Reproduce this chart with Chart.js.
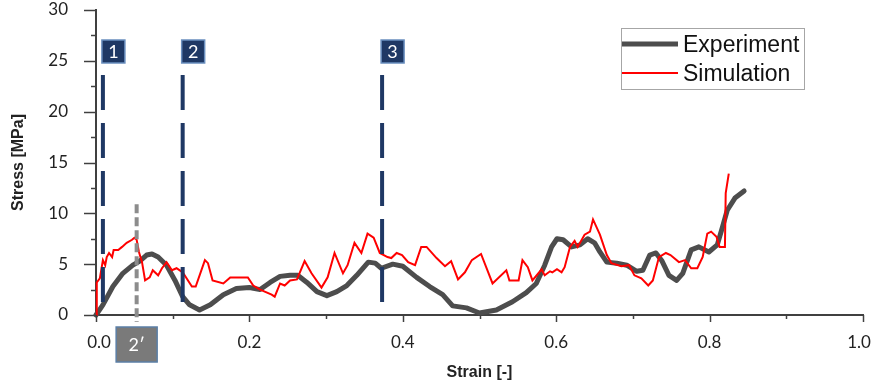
<!DOCTYPE html>
<html>
<head>
<meta charset="utf-8">
<script src="https://cdn.jsdelivr.net/npm/chart.js@4.4.1/dist/chart.umd.min.js"></script>
<style>
html,body{margin:0;padding:0;background:#fff;}
#wrap{width:873px;height:383px;}
</style>
</head>
<body>
<div id="wrap"><canvas id="c" width="873" height="383"></canvas></div>
<script>
// ---- data ----
const expStrain = [0.000,0.009,0.022,0.035,0.048,0.057,0.066,0.073,0.081,0.092,0.103,0.113,0.122,0.135,0.149,0.166,0.183,0.200,0.214,0.227,0.240,0.253,0.263,0.275,0.288,0.301,0.314,0.327,0.340,0.355,0.364,0.372,0.387,0.400,0.418,0.435,0.452,0.465,0.483,0.500,0.522,0.543,0.561,0.574,0.585,0.594,0.601,0.609,0.620,0.631,0.641,0.650,0.657,0.666,0.679,0.692,0.705,0.713,0.722,0.730,0.738,0.747,0.757,0.765,0.776,0.786,0.799,0.810,0.817,0.823,0.833,0.845];
const expStress = [0.0,1.0,2.8,4.1,4.9,5.3,5.9,6.0,5.7,4.9,3.4,1.8,1.0,0.5,1.0,2.0,2.6,2.7,2.5,3.2,3.8,3.9,3.9,3.2,2.3,1.9,2.3,2.9,3.9,5.2,5.1,4.6,5.0,4.8,3.7,2.8,2.0,0.9,0.7,0.2,0.5,1.3,2.2,3.1,4.9,6.7,7.5,7.4,6.7,6.9,7.5,7.1,6.2,5.2,5.1,4.9,4.3,4.4,5.9,6.1,5.3,3.9,3.4,4.1,6.4,6.7,6.2,6.9,8.7,10.3,11.5,12.2];

const simStrain = [0.000,0.001,0.005,0.009,0.012,0.014,0.017,0.021,0.023,0.029,0.034,0.040,0.047,0.050,0.053,0.056,0.060,0.064,0.070,0.074,0.081,0.086,0.092,0.099,0.105,0.113,0.125,0.130,0.142,0.146,0.152,0.166,0.175,0.198,0.205,0.214,0.229,0.233,0.240,0.246,0.253,0.262,0.272,0.281,0.294,0.302,0.311,0.322,0.328,0.337,0.346,0.354,0.362,0.370,0.380,0.385,0.392,0.399,0.407,0.416,0.424,0.431,0.444,0.455,0.463,0.472,0.481,0.490,0.502,0.517,0.535,0.539,0.551,0.556,0.563,0.569,0.581,0.585,0.592,0.595,0.601,0.607,0.611,0.618,0.624,0.628,0.637,0.644,0.648,0.657,0.666,0.672,0.685,0.695,0.702,0.711,0.720,0.726,0.734,0.743,0.749,0.760,0.768,0.776,0.784,0.791,0.797,0.802,0.809,0.813,0.820,0.821,0.825];
const simStress = [0.0,3.2,3.6,5.4,4.9,5.7,6.1,5.7,6.4,6.4,6.7,7.1,7.4,7.6,7.4,6.2,5.2,3.4,3.7,4.4,3.9,4.6,5.2,4.4,4.6,4.2,2.8,2.8,5.4,5.1,3.4,3.1,3.7,3.7,2.9,2.5,2.0,1.8,3.1,2.9,3.4,3.5,5.3,4.1,2.7,3.7,6.1,4.1,4.9,7.1,6.1,8.0,7.6,6.1,5.7,5.6,6.1,5.9,5.2,4.9,6.7,6.7,5.6,4.8,5.3,3.5,4.2,5.4,6.0,3.1,4.4,3.4,3.4,5.4,4.7,3.4,4.5,3.9,4.3,4.2,4.5,4.2,4.7,6.7,7.3,6.7,7.9,8.2,9.4,7.9,5.9,5.1,4.8,4.9,3.9,3.6,2.9,3.4,5.7,6.1,5.9,5.2,5.4,4.6,4.6,5.7,8.0,8.2,7.7,6.7,6.7,12.0,13.9];

const seriesNames = ['Experiment', 'Simulation'];
const xTickValues = [0, 0.2, 0.4, 0.6, 0.8, 1.0];
const xTickLabels = ['0.0','0.2','0.4','0.6','0.8','1.0'];
const yTickLabels = ['0','5','10','15','20','25','30'];

// marker lines (stage lines)
const markerStrain = [0.009, 0.113, 0.373];
const markerLabels = ['1', '2', '3'];
const markerTopStress = 23.6;
const markerBottomStress = 1.2;
const primeStrain = 0.053;
const primeLabel = '2\u2032';
const primeTopStress = 10.9;

const toPts = (xs, ys) => xs.map((x, i) => ({x: x, y: ys[i]}));

const decor = {
  id: 'decor',
  afterDatasetsDraw(chart) {
    const ctx = chart.ctx;
    const xs = chart.scales.x, ys = chart.scales.y;
    const ca = chart.chartArea;
    ctx.save();
    // axis ticks
    ctx.strokeStyle = '#404040';
    ctx.lineWidth = 1.5;
    ys.ticks.forEach(t => {
      const py = Math.round(ys.getPixelForValue(t.value)) + 0.5;
      const major = Math.abs(t.value % 5) < 1e-6;
      const len = major ? 12 : 5;
      ctx.beginPath(); ctx.moveTo(ca.left - len, py); ctx.lineTo(ca.left, py); ctx.stroke();
    });
    xs.ticks.forEach(t => {
      const px = Math.round(xs.getPixelForValue(t.value)) + 0.5;
      const major = Math.round(t.value * 10) % 2 === 0;
      const len = major ? 7 : 4;
      ctx.beginPath(); ctx.moveTo(px, ca.bottom); ctx.lineTo(px, ca.bottom + len); ctx.stroke();
    });
    // x tick labels (edge labels nudged inward like the original)
    ctx.font = '17px Lato, "Open Sans", sans-serif';
    ctx.fillStyle = '#222';
    ctx.textAlign = 'center';
    ctx.textBaseline = 'middle';
    xTickValues.forEach((v, i) => {
      let px = xs.getPixelForValue(v);
      if (i === 0) px += 3;
      if (i === xTickValues.length - 1) px -= 4;
      ctx.fillText(xTickLabels[i], px, ca.bottom + 28);
    });

    // gray dashed 2' line
    const ppx = xs.getPixelForValue(primeStrain);
    ctx.strokeStyle = '#8c8c8c';
    ctx.lineWidth = 4;
    ctx.setLineDash([9, 4]);
    ctx.beginPath();
    ctx.moveTo(ppx, ys.getPixelForValue(primeTopStress));
    ctx.lineTo(ppx, ca.bottom + 7);
    ctx.stroke();

    // navy dashed stage lines
    ctx.strokeStyle = '#1f3864';
    ctx.lineWidth = 4;
    ctx.setLineDash([35, 13]);
    markerStrain.forEach(s => {
      const px = xs.getPixelForValue(s);
      ctx.beginPath();
      ctx.moveTo(px, ys.getPixelForValue(markerTopStress));
      ctx.lineTo(px, ys.getPixelForValue(markerBottomStress));
      ctx.stroke();
    });
    ctx.setLineDash([]);

    // stage label boxes
    ctx.font = '18px Lato, "Open Sans", sans-serif';
    ctx.textAlign = 'center';
    ctx.textBaseline = 'middle';
    markerStrain.forEach((s, i) => {
      const px = xs.getPixelForValue(s);
      const bx = px - 1, by = 40, bw = 23, bh = 23;
      ctx.fillStyle = '#1f3864';
      ctx.fillRect(bx, by, bw, bh);
      ctx.strokeStyle = '#6a8fbf';
      ctx.lineWidth = 1.5;
      ctx.strokeRect(bx, by, bw, bh);
      ctx.fillStyle = '#ffffff';
      ctx.fillText(markerLabels[i], bx + bw / 2, by + bh / 2 + 1);
    });
    // 2' box
    {
      const bw = 41, bh = 35;
      const bx = ppx - bw / 2, by = 327;
      ctx.fillStyle = '#7a7a7a';
      ctx.fillRect(bx, by, bw, bh);
      ctx.strokeStyle = '#5b7fa6';
      ctx.lineWidth = 1.5;
      ctx.strokeRect(bx, by, bw, bh);
      ctx.fillStyle = '#ffffff';
      ctx.fillText(primeLabel, bx + bw / 2, by + bh / 2 + 1);
    }

    // legend
    ctx.strokeStyle = '#a6a6a6';
    ctx.lineWidth = 1;
    ctx.strokeRect(621.5, 28.5, 183, 61);
    const ds = chart.data.datasets;
    const legY = [44, 73];
    const baseY = [52, 81];
    ctx.textAlign = 'left';
    ctx.textBaseline = 'alphabetic';
    ctx.font = '23px "Liberation Sans", Arial, sans-serif';
    ds.forEach((d, i) => {
      ctx.strokeStyle = d.borderColor;
      ctx.lineWidth = d.borderWidth;
      ctx.lineCap = 'butt';
      ctx.beginPath(); ctx.moveTo(622, legY[i]); ctx.lineTo(678, legY[i]); ctx.stroke();
      ctx.fillStyle = '#111';
      ctx.fillText(d.label, 683, baseY[i]);
    });
    ctx.restore();
  }
};

new Chart(document.getElementById('c'), {
  type: 'scatter',
  data: {
    datasets: [
      {label: seriesNames[0], data: toPts(expStrain, expStress), showLine: true, borderColor: '#4d4d4d', borderWidth: 5, pointRadius: 0, borderCapStyle: 'round', borderJoinStyle: 'round', order: 2, clip: 8},
      {label: seriesNames[1], data: toPts(simStrain, simStress), showLine: true, borderColor: '#ff0000', borderWidth: 2, pointRadius: 0, borderJoinStyle: 'miter', order: 1, clip: 8}
    ]
  },
  options: {
    responsive: false,
    animation: false,
    devicePixelRatio: 1,
    layout: {padding: {left: 0, right: 10, top: 10, bottom: 0}},
    plugins: {legend: {display: false}, tooltip: {enabled: false}},
    scales: {
      x: {
        type: 'linear', min: 0, max: 1,
        afterFit: s => { s.height = 68; s.paddingLeft = 0; s.paddingRight = 0; },
        grid: {display: true, drawOnChartArea: false, drawTicks: false},
        border: {display: true, color: '#404040', width: 2},
        ticks: {
          stepSize: 0.1, padding: 19, color: '#222', font: {family: 'Lato, "Open Sans", sans-serif', size: 17},
          maxRotation: 0, autoSkip: false,
          callback: () => ''
        },
        title: {display: true, text: 'Strain [-]', color: '#222', font: {family: '"Liberation Sans", Arial, sans-serif', size: 16, weight: 'bold'}, padding: {top: 0, bottom: 1}}
      },
      y: {
        type: 'linear', min: 0, max: 30,
        afterFit: s => { s.width = 96; s.paddingTop = 0; s.paddingBottom = 0; },
        grid: {display: true, drawOnChartArea: false, drawTicks: false},
        border: {display: true, color: '#404040', width: 2},
        ticks: {
          stepSize: 2.5, padding: 28, color: '#222', font: {family: 'Lato, "Open Sans", sans-serif', size: 17},
          autoSkip: false,
          callback: (v) => { const k = Math.round(v / 2.5); return k % 2 === 0 ? yTickLabels[k / 2] : ''; }
        },
        title: {display: true, text: 'Stress [MPa]', color: '#222', font: {family: '"Liberation Sans", Arial, sans-serif', size: 16, weight: 'bold'}, padding: {top: 9, bottom: 0}}
      }
    }
  },
  plugins: [decor]
});
</script>
</body>
</html>
